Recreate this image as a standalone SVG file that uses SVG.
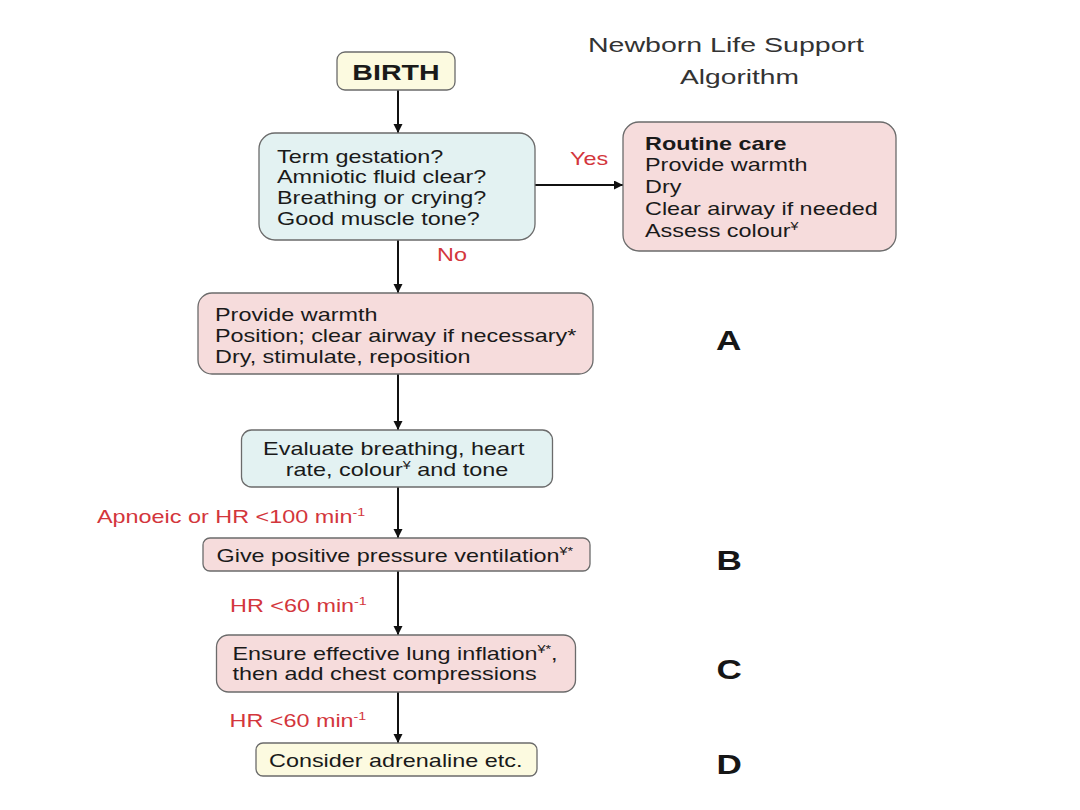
<svg xmlns="http://www.w3.org/2000/svg" width="1080" height="810" viewBox="0 0 1080 810">
  <defs>
    <marker id="arr" markerUnits="userSpaceOnUse" markerWidth="10" markerHeight="10" refX="9" refY="4.5" orient="auto">
      <path d="M0,0 L9,4.5 L0,9 z" fill="#111"/>
    </marker>
    <style>
      text { font-family: "Liberation Sans", Arial, Helvetica, sans-serif; font-size: 18px; fill: #1a1a1a; }
      .box { stroke: #6b6b6b; stroke-width: 1.3; }
      .pink { fill: #f6dcdc; }
      .cyan { fill: #e3f2f2; }
      .yellow { fill: #fcfae0; }
      .red { fill: #d3363c; }
      .bold { font-weight: bold; }
      .letter { font-weight: bold; font-size: 27px; fill: #161616; }
      .title { font-size: 21px; fill: #333; }
      .sup { font-size: 11px; }
      .conn { stroke: #111; stroke-width: 2; fill: none; marker-end: url(#arr); }
    </style>
  </defs>
  <rect width="1080" height="810" fill="#ffffff"/>

  <g id="title">
    <text class="title" x="588" y="52" textLength="276" lengthAdjust="spacingAndGlyphs">Newborn Life Support</text>
    <text class="title" x="680" y="83.5" textLength="119" lengthAdjust="spacingAndGlyphs">Algorithm</text>
  </g>

  <g id="connectors">
    <line class="conn" x1="398" y1="90" x2="398" y2="133"/>
    <line class="conn" x1="398" y1="240" x2="398" y2="293"/>
    <line class="conn" x1="398" y1="374" x2="398" y2="430"/>
    <line class="conn" x1="398" y1="487" x2="398" y2="538"/>
    <line class="conn" x1="398" y1="571" x2="398" y2="635"/>
    <line class="conn" x1="398" y1="692" x2="398" y2="743"/>
    <line class="conn" x1="535" y1="185" x2="623" y2="185"/>
  </g>

  <g id="birth">
    <rect class="box yellow" x="337" y="52" width="118" height="38" rx="8"/>
    <text class="bold" text-anchor="middle" transform="translate(396 79.5) scale(1.3 1)" style="font-size:22px">BIRTH</text>
  </g>

  <g id="questions">
    <rect class="box cyan" x="259" y="133" width="276" height="107" rx="16"/>
    <text transform="translate(277 162.5) scale(1.3 1)">
      <tspan x="0" y="0">Term gestation?</tspan>
      <tspan x="0" dy="21">Amniotic fluid clear?</tspan>
      <tspan x="0" dy="21">Breathing or crying?</tspan>
      <tspan x="0" dy="21">Good muscle tone?</tspan>
    </text>
  </g>

  <g id="label-yes">
    <text class="red" transform="translate(570 164.5) scale(1.3 1)">Yes</text>
  </g>

  <g id="routine-care">
    <rect class="box pink" x="623" y="122" width="273" height="129" rx="16"/>
    <text transform="translate(645 149.5) scale(1.3 1)">
      <tspan x="0" y="0" class="bold">Routine care</tspan>
      <tspan x="0" dy="22">Provide warmth</tspan>
      <tspan x="0" dy="22">Dry</tspan>
      <tspan x="0" dy="22">Clear airway if needed</tspan>
      <tspan x="0" dy="22">Assess colour<tspan class="sup" dy="-7">¥</tspan></tspan>
    </text>
  </g>

  <g id="label-no">
    <text class="red" transform="translate(437 261) scale(1.3 1)">No</text>
  </g>

  <g id="step-a">
    <rect class="box pink" x="198" y="293" width="395" height="81" rx="14"/>
    <text transform="translate(215 321) scale(1.3 1)">
      <tspan x="0" y="0">Provide warmth</tspan>
      <tspan x="0" dy="21">Position; clear airway if necessary*</tspan>
      <tspan x="0" dy="21">Dry, stimulate, reposition</tspan>
    </text>
  </g>

  <g id="letter-a">
    <text class="letter" transform="translate(716 349.5) scale(1.3 1)">A</text>
  </g>

  <g id="evaluate">
    <rect class="box cyan" x="241.5" y="430" width="311" height="57" rx="10"/>
    <text text-anchor="middle" transform="translate(397 455) scale(1.3 1)">
      <tspan x="0" y="0">Evaluate breathing, heart</tspan>
      <tspan x="0" dy="21">rate, colour<tspan class="sup" dy="-7">¥</tspan><tspan dy="7"> and tone</tspan></tspan>
    </text>
  </g>

  <g id="label-apnoeic">
    <text class="red" transform="translate(97 522.5) scale(1.3 1)">Apnoeic or HR &lt;100 min<tspan class="sup" dy="-7">-1</tspan></text>
  </g>

  <g id="step-b">
    <rect class="box pink" x="203" y="538" width="387" height="33" rx="7"/>
    <text transform="translate(216.5 561.5) scale(1.3 1)">Give positive pressure ventilation<tspan class="sup" dy="-7">¥*</tspan></text>
  </g>

  <g id="letter-b">
    <text class="letter" transform="translate(716.5 569.5) scale(1.3 1)">B</text>
  </g>

  <g id="label-hr60-1">
    <text class="red" transform="translate(230 611.5) scale(1.3 1)">HR &lt;60 min<tspan class="sup" dy="-7">-1</tspan></text>
  </g>

  <g id="step-c">
    <rect class="box pink" x="216.5" y="635" width="359" height="57" rx="12"/>
    <text transform="translate(232.5 660) scale(1.3 1)">
      <tspan x="0" y="0">Ensure effective lung inflation<tspan class="sup" dy="-7">¥*</tspan><tspan dy="7">,</tspan></tspan>
      <tspan x="0" y="20.5">then add chest compressions</tspan>
    </text>
  </g>

  <g id="letter-c">
    <text class="letter" transform="translate(716.5 678.5) scale(1.3 1)">C</text>
  </g>

  <g id="label-hr60-2">
    <text class="red" transform="translate(229.5 726.5) scale(1.3 1)">HR &lt;60 min<tspan class="sup" dy="-7">-1</tspan></text>
  </g>

  <g id="step-d">
    <rect class="box yellow" x="256" y="743" width="281" height="33" rx="7"/>
    <text transform="translate(269 766.5) scale(1.3 1)">Consider adrenaline etc.</text>
  </g>

  <g id="letter-d">
    <text class="letter" transform="translate(716.5 773.5) scale(1.3 1)">D</text>
  </g>
</svg>
